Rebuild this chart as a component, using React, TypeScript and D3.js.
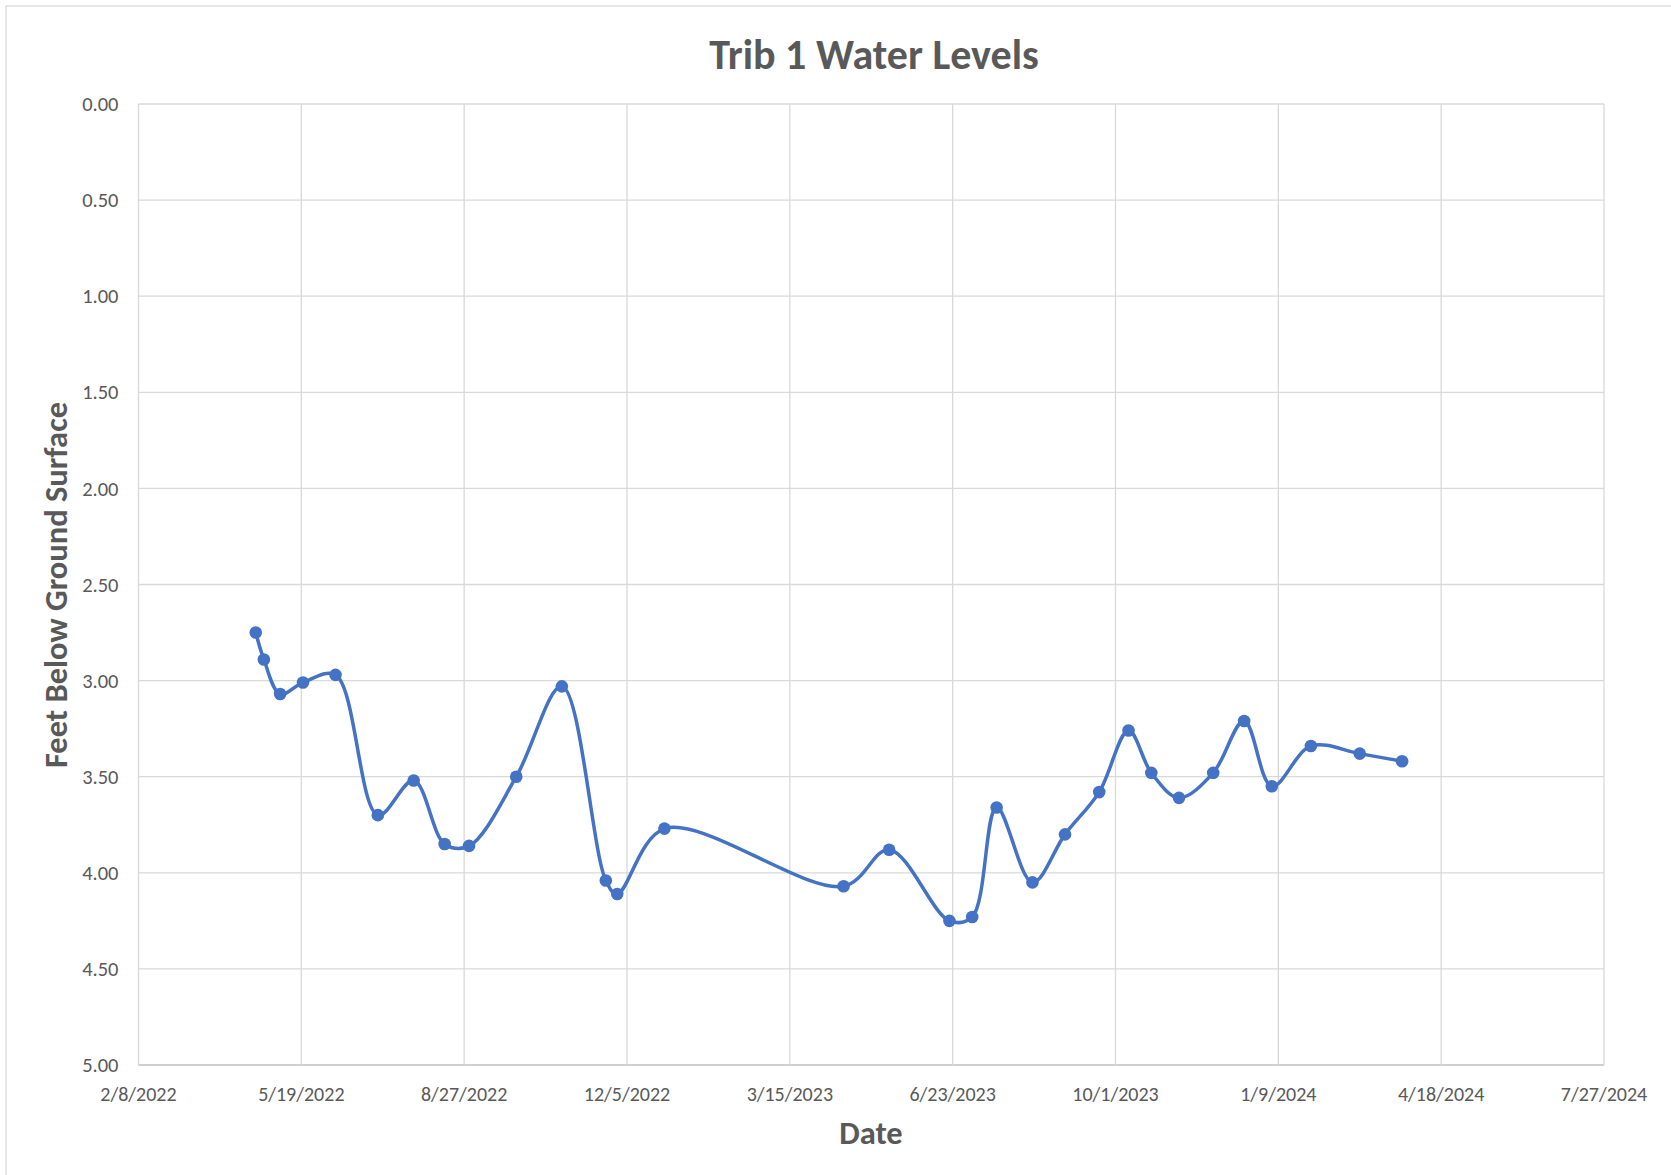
import React, { useMemo } from 'react';
import * as d3 from 'd3';

const WIDTH = 1671;
const HEIGHT = 1175;
const margin = { l: 138.5, r: 67, t: 104, b: 110 };

const FONT = 'Calibri, Carlito, Lato, sans-serif';
const TEXT_COLOR = '#595959';
const GRID_COLOR = '#d9d9d9';
const LINE_COLOR = '#4472c4';

// measurement dates and depth to water (ft below ground surface)
const sampleDates = [
  '4/21/2022', '4/26/2022', '5/6/2022', '5/20/2022', '6/9/2022', '7/5/2022', '7/27/2022',
  '8/15/2022', '8/30/2022', '9/28/2022', '10/26/2022', '11/22/2022', '11/29/2022', '12/28/2022',
  '4/17/2023', '5/15/2023', '6/21/2023', '7/5/2023', '7/20/2023', '8/11/2023', '8/31/2023',
  '9/21/2023', '10/9/2023', '10/23/2023', '11/9/2023', '11/30/2023', '12/19/2023',
  '1/5/2024', '1/29/2024', '2/28/2024', '3/25/2024',
];

const depths = [
  2.75, 2.89, 3.07, 3.01, 2.97, 3.7, 3.52,
  3.85, 3.86, 3.5, 3.03, 4.04, 4.11, 3.77,
  4.07, 3.88, 4.25, 4.23, 3.66, 4.05, 3.8,
  3.58, 3.26, 3.48, 3.61, 3.48, 3.21,
  3.55, 3.34, 3.38, 3.42,
];

const xTickLabels = [
  '2/8/2022', '5/19/2022', '8/27/2022', '12/5/2022', '3/15/2023',
  '6/23/2023', '10/1/2023', '1/9/2024', '4/18/2024', '7/27/2024',
];

const yDomain = [0, 5];

const parse = d3.timeParse('%m/%d/%Y');

const App = () => {
  const widthMap = WIDTH - margin.l - margin.r;
  const heightMap = HEIGHT - margin.t - margin.b;

  const xTicks = useMemo(() => xTickLabels.map((d) => parse(d) as Date), []);

  const xScale = useMemo(
    () =>
      d3
        .scaleTime()
        .domain([xTicks[0], xTicks[xTicks.length - 1]])
        .range([0, widthMap]),
    [xTicks, widthMap]
  );

  const yScale = useMemo(
    () => d3.scaleLinear().domain(yDomain).range([0, heightMap]),
    [heightMap]
  );

  const points = useMemo(
    () => sampleDates.map((d, i) => [parse(d) as Date, depths[i]] as [Date, number]),
    []
  );

  // smoothed line, close to excel's "smoothed line" option
  const line = d3
    .line<[Date, number]>()
    .x((d) => xScale(d[0]))
    .y((d) => yScale(d[1]))
    .curve(d3.curveCatmullRom.alpha(0.5));

  const yTicks = yScale.ticks(10);
  const fmt = d3.format('.2f');

  return (
    <svg
      width={WIDTH}
      height={HEIGHT}
      style={{ position: 'absolute', left: 0, top: 0, background: '#fff' }}
      fontFamily={FONT}
    >
      <rect x={6} y={6} width={WIDTH} height={HEIGHT} fill="#fff" stroke={GRID_COLOR} strokeWidth={1.3} />

      <text
        x={874}
        y={69}
        textAnchor="middle"
        fontSize={42}
        fontWeight="bold"
        fill={TEXT_COLOR}
      >
        Trib 1 Water Levels
      </text>

      <g transform={`translate(${margin.l},${margin.t})`}>
        {yTicks.map((t) => (
          <line
            key={`gy-${t}`}
            x1={0}
            x2={widthMap}
            y1={yScale(t)}
            y2={yScale(t)}
            stroke={t === 5 ? '#bfbfbf' : GRID_COLOR}
            strokeWidth={1.3}
          />
        ))}
        {xTicks.map((t, i) => (
          <line
            key={`gx-${i}`}
            x1={xScale(t)}
            x2={xScale(t)}
            y1={0}
            y2={heightMap}
            stroke={GRID_COLOR}
            strokeWidth={1.3}
          />
        ))}

        {yTicks.map((t) => (
          <text
            key={`ty-${t}`}
            x={-20}
            y={yScale(t)}
            dy="0.35em"
            textAnchor="end"
            fontSize={20.5}
            fill={TEXT_COLOR}
          >
            {fmt(t)}
          </text>
        ))}
        {xTicks.map((t, i) => (
          <text
            key={`tx-${i}`}
            x={xScale(t)}
            y={heightMap + 36}
            textAnchor="middle"
            fontSize={20}
            fill={TEXT_COLOR}
          >
            {xTickLabels[i]}
          </text>
        ))}

        <path d={line(points) || ''} fill="none" stroke={LINE_COLOR} strokeWidth={3.5} />
        {points.map((d, i) => (
          <circle key={`p-${i}`} cx={xScale(d[0])} cy={yScale(d[1])} r={6.3} fill={LINE_COLOR} />
        ))}
      </g>

      <text
        transform="translate(66.5,585) rotate(-90)"
        textAnchor="middle"
        fontSize={32.5}
        fontWeight="bold"
        fill={TEXT_COLOR}
      >
        Feet Below Ground Surface
      </text>
      <text x={871} y={1144} textAnchor="middle" fontSize={32.5} fontWeight="bold" fill={TEXT_COLOR}>
        Date
      </text>
    </svg>
  );
};

export default App;
